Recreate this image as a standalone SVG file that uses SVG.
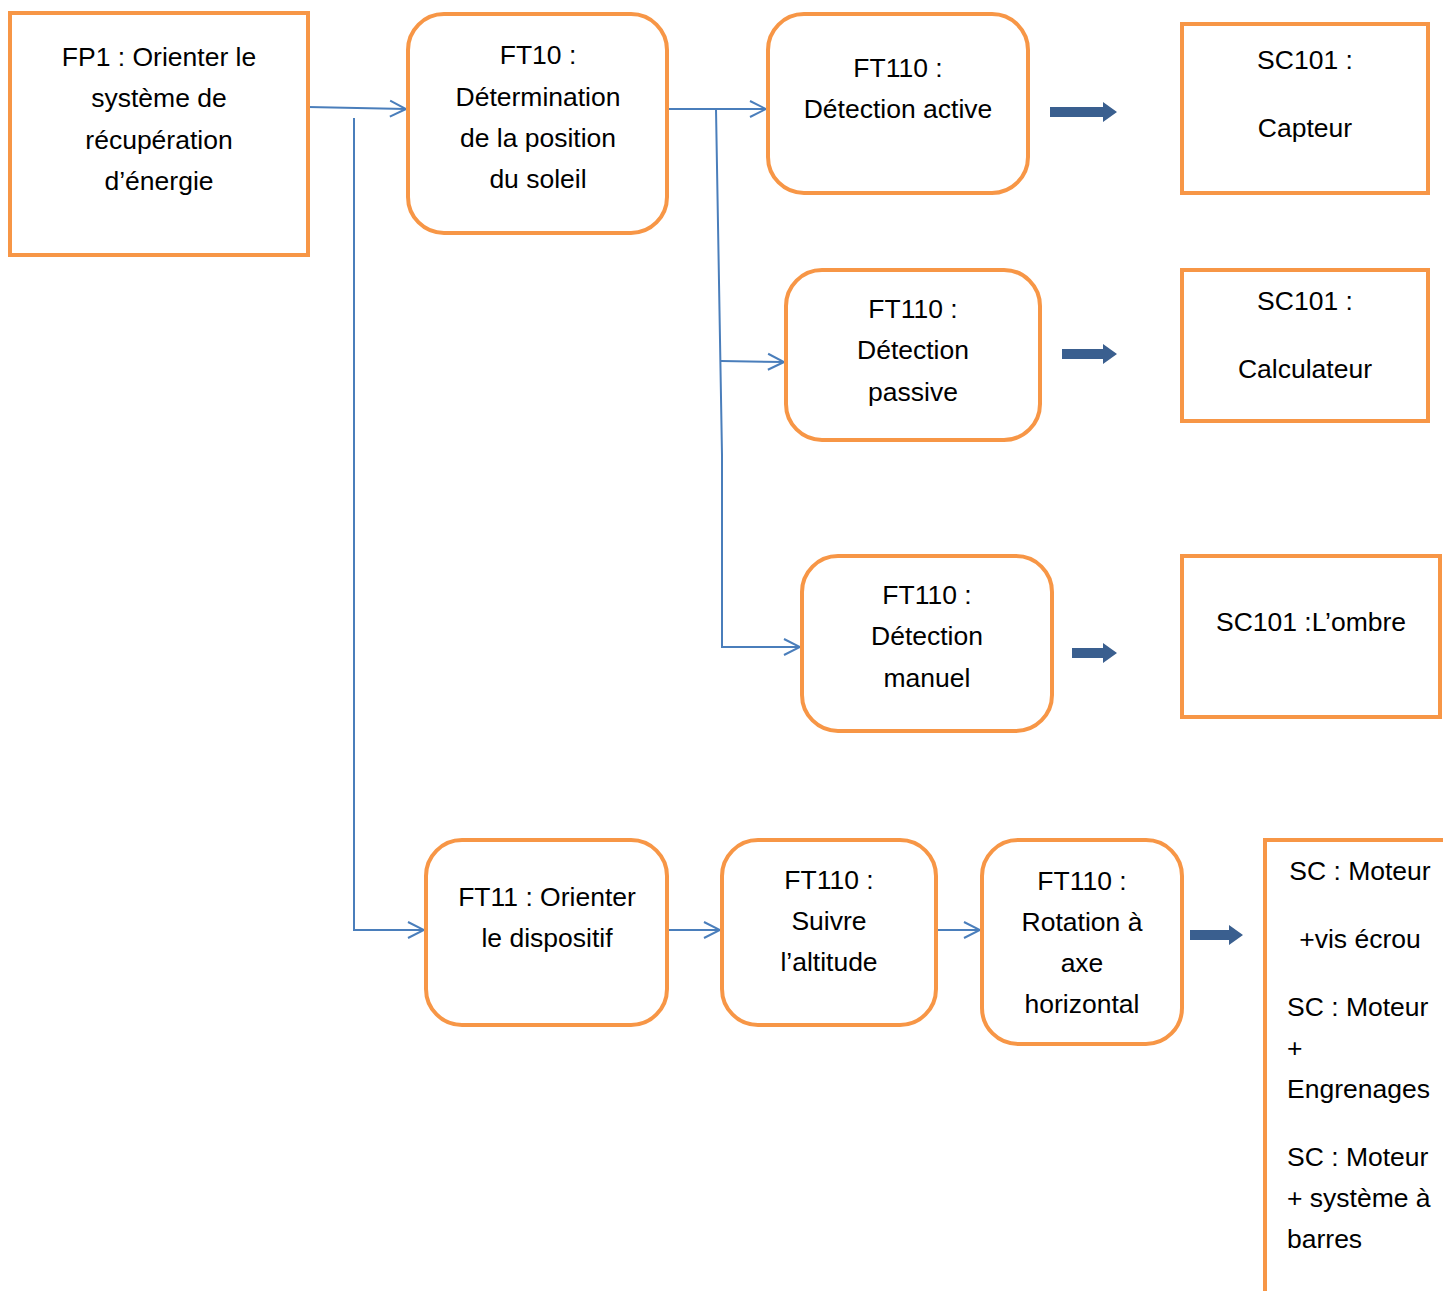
<svg xmlns="http://www.w3.org/2000/svg" width="1443" height="1291" viewBox="0 0 1443 1291">
<style>
.box{fill:#fff;stroke:#F79646;stroke-width:4}
text{font-family:"Liberation Sans",Arial,sans-serif;font-size:26.5px;fill:#000}
.c{text-anchor:middle}
.con{fill:none;stroke:#4A7EBB;stroke-width:2}
.big{fill:#3A5F8F}
</style>
<defs>
<marker id="open" viewBox="0 0 20 20" refX="18" refY="10" markerWidth="20" markerHeight="20" markerUnits="userSpaceOnUse" orient="auto">
<path d="M2,2 L18,10 L2,18" fill="none" stroke="#4A7EBB" stroke-width="2"/>
</marker>
</defs>
<rect width="1443" height="1291" fill="#fff"/>
<g id="connectors">
<path class="con" d="M308,107 L406,109" marker-end="url(#open)"/>
<path class="con" d="M354,118 L354,930 L424,930" marker-end="url(#open)"/>
<path class="con" d="M667,109 L766,109" marker-end="url(#open)"/>
<path class="con" d="M716,109 L722,455 L722,647 L800,647" marker-end="url(#open)"/>
<path class="con" d="M721,361 L784,362" marker-end="url(#open)"/>
<path class="con" d="M667,930 L720,930" marker-end="url(#open)"/>
<path class="con" d="M936,930 L980,930" marker-end="url(#open)"/>
<path class="big" d="M1050,107 L1103,107 L1103,102 L1117,112 L1103,122 L1103,117 L1050,117 Z"/>
<path class="big" d="M1062,349 L1103,349 L1103,344 L1117,354 L1103,364 L1103,359 L1062,359 Z"/>
<path class="big" d="M1072,648 L1103,648 L1103,643 L1117,653 L1103,663 L1103,658 L1072,658 Z"/>
<path class="big" d="M1190,930 L1229,930 L1229,925 L1243,935 L1229,945 L1229,940 L1190,940 Z"/>
</g>
<g id="FP1">
<rect class="box" x="10" y="13" width="298" height="242"/>
<text class="c" x="159" y="66">FP1 : Orienter le</text>
<text class="c" x="159" y="107">système de</text>
<text class="c" x="159" y="149">récupération</text>
<text class="c" x="159" y="190">d’énergie</text>
</g>
<g id="FT10">
<rect class="box" x="408" y="14" width="259" height="219" rx="36"/>
<text class="c" x="538" y="64">FT10 :</text>
<text class="c" x="538" y="106">Détermination</text>
<text class="c" x="538" y="147">de la position</text>
<text class="c" x="538" y="188">du soleil</text>
</g>
<g id="FT110a">
<rect class="box" x="768" y="14" width="260" height="179" rx="36"/>
<text class="c" x="898" y="77">FT110 :</text>
<text class="c" x="898" y="118">Détection active</text>
</g>
<g id="SC101a">
<rect class="box" x="1182" y="24" width="246" height="169"/>
<text class="c" x="1305" y="69">SC101 :</text>
<text class="c" x="1305" y="137">Capteur</text>
</g>
<g id="FT110b">
<rect class="box" x="786" y="270" width="254" height="170" rx="36"/>
<text class="c" x="913" y="318">FT110 :</text>
<text class="c" x="913" y="359">Détection</text>
<text class="c" x="913" y="401">passive</text>
</g>
<g id="SC101b">
<rect class="box" x="1182" y="270" width="246" height="151"/>
<text class="c" x="1305" y="310">SC101 :</text>
<text class="c" x="1305" y="378">Calculateur</text>
</g>
<g id="FT110c">
<rect class="box" x="802" y="556" width="250" height="175" rx="36"/>
<text class="c" x="927" y="604">FT110 :</text>
<text class="c" x="927" y="645">Détection</text>
<text class="c" x="927" y="687">manuel</text>
</g>
<g id="SC101c">
<rect class="box" x="1182" y="556" width="258" height="161"/>
<text class="c" x="1311" y="631">SC101 :L’ombre</text>
</g>
<g id="FT11">
<rect class="box" x="426" y="840" width="241" height="185" rx="36"/>
<text class="c" x="547" y="906">FT11 : Orienter</text>
<text class="c" x="547" y="947">le dispositif</text>
</g>
<g id="FT110d">
<rect class="box" x="722" y="840" width="214" height="185" rx="36"/>
<text class="c" x="829" y="889">FT110 :</text>
<text class="c" x="829" y="930">Suivre</text>
<text class="c" x="829" y="971">l’altitude</text>
</g>
<g id="FT110e">
<rect class="box" x="982" y="840" width="200" height="204" rx="36"/>
<text class="c" x="1082" y="890">FT110 :</text>
<text class="c" x="1082" y="931">Rotation à</text>
<text class="c" x="1082" y="972">axe</text>
<text class="c" x="1082" y="1013">horizontal</text>
</g>
<g id="SC">
<rect class="box" x="1265" y="840" width="200" height="480"/>
<text class="c" x="1360" y="880">SC : Moteur</text>
<text class="c" x="1360" y="948">+vis écrou</text>
<text x="1287" y="1016">SC : Moteur</text>
<text x="1287" y="1057">+</text>
<text x="1287" y="1098">Engrenages</text>
<text x="1287" y="1166">SC : Moteur</text>
<text x="1287" y="1207">+ système à</text>
<text x="1287" y="1248">barres</text>
</g>
</svg>
